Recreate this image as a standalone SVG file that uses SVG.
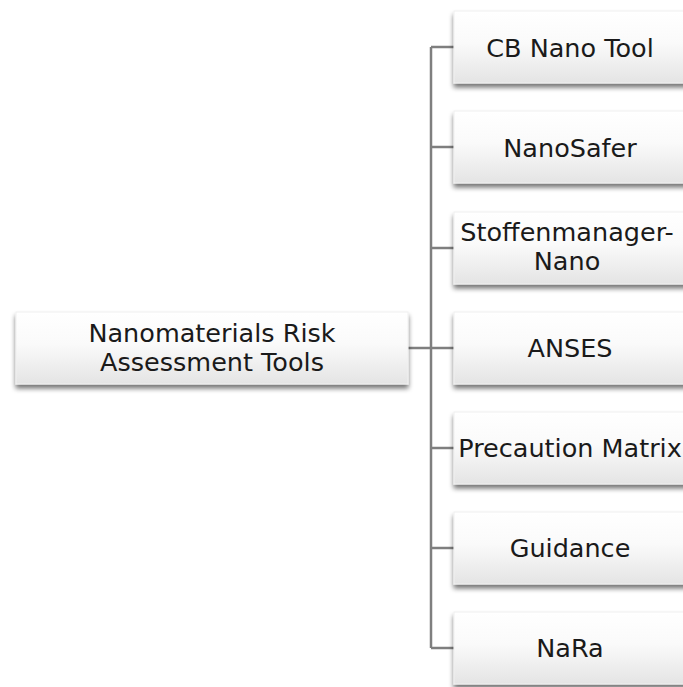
<svg xmlns="http://www.w3.org/2000/svg" width="683" height="687" viewBox="0 0 683 687">
<defs>
<linearGradient id="g" x1="0" y1="0" x2="0" y2="1">
<stop offset="0" stop-color="#ffffff"/>
<stop offset="0.45" stop-color="#fafafa"/>
<stop offset="1" stop-color="#e4e4e4"/>
</linearGradient>
<filter id="sh" x="-10%" y="-20%" width="120%" height="150%">
<feGaussianBlur in="SourceAlpha" stdDeviation="2.5"/>
<feOffset dx="0" dy="4" result="b"/>
<feComponentTransfer><feFuncA type="linear" slope="0.55"/></feComponentTransfer>
<feMerge><feMergeNode/><feMergeNode in="SourceGraphic"/></feMerge>
</filter>
</defs>
<style>
.box{fill:url(#g);stroke:#f0f0f0;stroke-width:1;filter:url(#sh)}
.t{font-family:"DejaVu Sans",sans-serif;font-size:25.5px;fill:#1a1a1a;text-anchor:middle}
.c{stroke:#7f7f7f;stroke-width:2.5;fill:none}
</style>
<rect width="683" height="687" fill="#ffffff"/>
<g id="connectors">
<path class="c" d="M408 348H431M431 47V648M431 47H454M431 147H454M431 248H454M431 348H454M431 448H454M431 548H454M431 648H454"/>
</g>
<g id="root">
<rect class="box" x="16" y="312" width="392" height="72"/>
<text class="t" x="212" y="342">Nanomaterials Risk</text>
<text class="t" x="212" y="371">Assessment Tools</text>
</g>
<g id="cb">
<rect class="box" x="454" y="11" width="234" height="72"/>
<text class="t" x="570" y="57">CB Nano Tool</text>
</g>
<g id="nanosafer">
<rect class="box" x="454" y="111" width="234" height="72"/>
<text class="t" x="570" y="157">NanoSafer</text>
</g>
<g id="stoffenmanager">
<rect class="box" x="454" y="212" width="234" height="72"/>
<text class="t" x="567" y="241">Stoffenmanager-</text>
<text class="t" x="567" y="270">Nano</text>
</g>
<g id="anses">
<rect class="box" x="454" y="312" width="234" height="72"/>
<text class="t" x="570" y="357">ANSES</text>
</g>
<g id="precaution">
<rect class="box" x="454" y="412" width="234" height="72"/>
<text class="t" x="570" y="457">Precaution Matrix</text>
</g>
<g id="guidance">
<rect class="box" x="454" y="512" width="234" height="72"/>
<text class="t" x="570" y="557">Guidance</text>
</g>
<g id="nara">
<rect class="box" x="454" y="612" width="234" height="72"/>
<text class="t" x="570" y="657">NaRa</text>
</g>
</svg>
